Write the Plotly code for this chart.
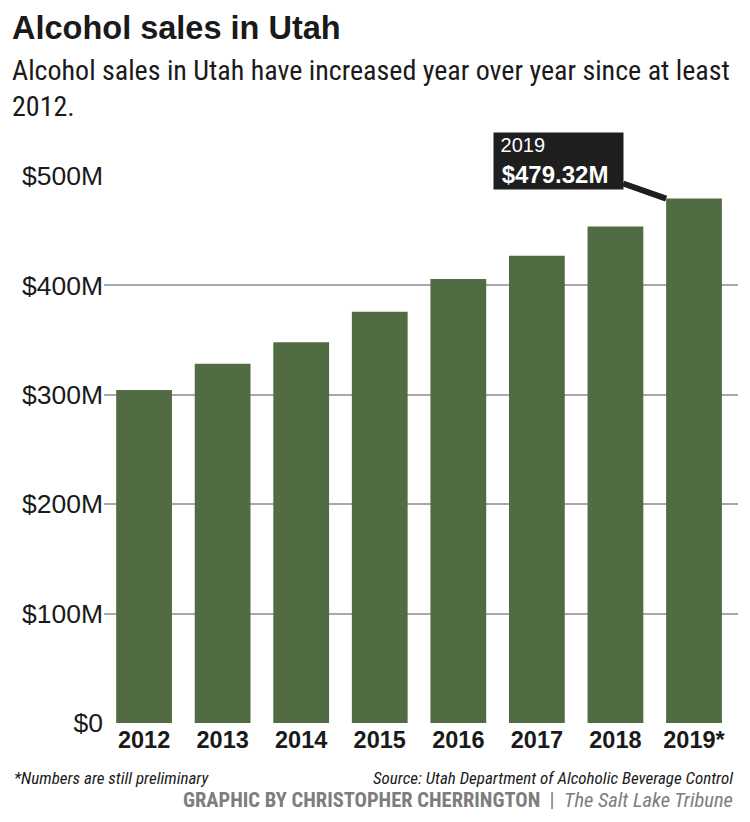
import plotly.graph_objects as go

# chart data
years = ["2012", "2013", "2014", "2015", "2016", "2017", "2018", "2019*"]
sales = [304.3, 328.4, 348.1, 375.9, 405.9, 427.2, 453.8, 479.32]
tick_vals = [0, 100, 200, 300, 400, 500]
tick_text = ["$0", "$100M", "$200M", "$300M", "$400M", "$500M"]

narrow = "Liberation Sans Narrow, Roboto Condensed, Arial Narrow, sans-serif"
wide = "Liberation Sans, Arial, sans-serif"
bar_color = "#516b43"
ink = "#1a1a1a"
bargap = 0.29

fig = go.Figure()
fig.add_trace(go.Bar(x=years, y=sales, marker=dict(color=bar_color, line=dict(width=0)),
                     hoverinfo="x+y"))

# callout for the latest year, arrow points at top-left corner of last bar
fig.add_annotation(x=len(years) - 1 - (1 - bargap) / 2, y=sales[-1], xref="x", yref="y",
                   text="<span style='font-size:20px'>&nbsp;2019</span><br>&nbsp;<b>$479.32M</b>&nbsp;&nbsp;",
                   align="left",
                   font=dict(family=wide, size=24, color="white"),
                   bgcolor="#1e1e1e", borderpad=1,
                   showarrow=True, arrowhead=0, arrowwidth=6, arrowcolor="#1e1e1e",
                   ax=-108, ay=-38)

# title / subtitle (page sits 8px in from the body margin, offsets account for it)
fig.add_annotation(x=-0.148, y=1.2697, xref="paper", yref="paper", xanchor="left", yanchor="middle",
                   text="<b>Alcohol sales in Utah</b>", showarrow=False,
                   font=dict(family=wide, size=32.5, color=ink))
fig.add_annotation(x=-0.148, y=1.1600, xref="paper", yref="paper", xanchor="left", yanchor="middle",
                   text="Alcohol sales in Utah have increased year over year since at least<br>2012.",
                   showarrow=False, align="left",
                   font=dict(family=narrow, size=28, color=ink))

# footer
fig.add_annotation(x=-0.145, y=-0.1005, xref="paper", yref="paper", xanchor="left", yanchor="middle",
                   text="<i>*Numbers are still preliminary</i>", showarrow=False,
                   font=dict(family=narrow, size=17, color=ink))
fig.add_annotation(x=0.995, y=-0.1005, xref="paper", yref="paper", xanchor="right", yanchor="middle",
                   text="<i>Source: Utah Department of Alcoholic Beverage Control</i>", showarrow=False,
                   font=dict(family=narrow, size=17, color=ink))
fig.add_annotation(x=0.995, y=-0.1408, xref="paper", yref="paper", xanchor="right", yanchor="middle",
                   text="<b>GRAPHIC BY CHRISTOPHER CHERRINGTON</b>  |  <i>The Salt Lake Tribune</i>",
                   showarrow=False,
                   font=dict(family=narrow, size=20.5, color="#7d7d7d"))

fig.update_layout(
    width=742, height=814,
    margin=dict(l=96, r=12, t=168, b=99),
    plot_bgcolor="white", paper_bgcolor="white",
    bargap=bargap, showlegend=False,
    font=dict(family=narrow, color=ink),
)
fig.update_xaxes(range=[-0.51, 7.56], showgrid=False, showline=False, ticks="",
                 tickfont=dict(family=wide, size=23.5, color=ink),
                 tickprefix="<b>", ticksuffix="</b>")
fig.update_yaxes(range=[0, 500], tickvals=tick_vals, ticktext=tick_text,
                 showgrid=True, gridcolor="#a8a8a8", gridwidth=2, zeroline=False,
                 showline=False, ticks="", ticklabelstandoff=0,
                 tickfont=dict(family=wide, size=26.5, color=ink))

fig.write_html("out.html")
